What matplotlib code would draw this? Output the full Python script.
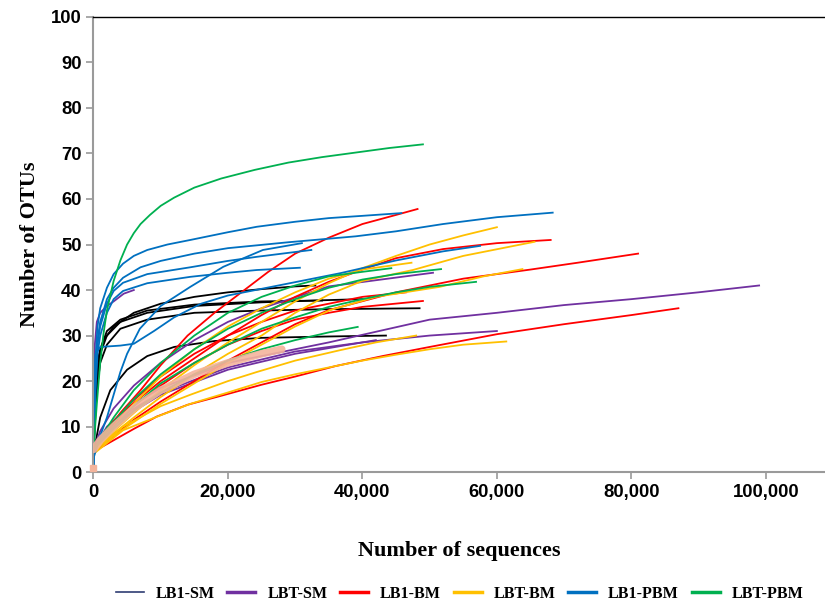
import matplotlib.pyplot as plt
from matplotlib.lines import Line2D
from matplotlib.ticker import FuncFormatter

# rarefaction curves: (sequences, OTUs)
lb1_sm = [
    ([0, 300, 700, 1500, 3000, 6000, 10000, 15000, 20000, 25000, 30000, 33000],
     [5, 18, 25, 29, 32, 35, 37, 38.5, 39.5, 40.2, 40.8, 41]),
    ([0, 500, 1000, 2000, 4000, 8000, 15000, 25000, 35000, 40000],
     [5, 20, 26, 30, 33, 35, 36.5, 37.3, 37.8, 38]),
    ([0, 500, 1000, 2000, 4000, 8000, 15000, 25000, 35000, 48500],
     [5, 18, 24, 28, 31.5, 33.5, 35, 35.5, 35.8, 36]),
    ([0, 1000, 2500, 5000, 8000, 12000, 18000, 25000, 35000, 43500],
     [4, 12, 18, 22.5, 25.5, 27.5, 28.8, 29.5, 29.8, 30]),
    ([0, 400, 1000, 2000, 4000, 8000, 15000, 25000, 34000],
     [5, 22, 27, 31, 33.5, 35.5, 36.8, 37.5, 37.7]),
]

lbt_sm = [
    ([0, 2000, 5000, 10000, 20000, 30000, 35000, 50000, 60000, 70000, 80000, 90000, 99000],
     [5, 10, 14, 18.5, 24, 27, 28.5, 33.5, 35, 36.7, 38, 39.5, 41]),
    ([0, 2000, 5000, 10000, 20000, 30000, 40000, 50000, 60000],
     [5, 9.5, 13, 17.5, 23, 26.5, 28.5, 30, 31]),
    ([0, 1000, 3000, 6000, 10000, 15000, 20000, 25000, 35000, 50500],
     [5, 9, 14, 19, 24, 29, 33, 36, 40.8, 43.8]),
    ([0, 200, 500, 1000, 2000, 3000, 4500, 6000],
     [20, 28, 33, 35, 36.5, 37.5, 39.2, 40]),
    ([0, 2000, 5000, 10000, 20000, 30000, 36000, 42000],
     [5, 9, 12.5, 17, 22.5, 26, 27.5, 29]),
]

lb1_bm = [
    ([0, 2000, 4000, 7000, 10000, 14000, 18000, 22000, 26000, 30000, 35000, 40000, 45000, 48200],
     [5, 9, 13, 18, 23.5, 30, 35, 39.5, 44, 48, 51.5, 54.5, 56.5, 57.8]),
    ([0, 2000, 5000, 10000, 15000, 20000, 25000, 30000, 35000, 40000, 45000, 52000, 60000, 68000],
     [5, 9, 14, 20, 25, 30, 34.5, 38.5, 41.8, 44.5, 47, 49, 50.3, 51]),
    ([0, 3000, 6000, 10000, 15000, 20000, 25000, 30000, 35000, 45000, 55000, 65000, 72000, 81000],
     [4.5, 8, 11.5, 15.5, 20, 24.5, 28.5, 32.5, 35.6, 39.5, 42.5, 44.5, 46, 48]),
    ([0, 3000, 6000, 9400, 14000, 19300, 25000, 30000, 36000, 43000, 50000, 60000, 70000, 80000, 87000],
     [4.5, 7, 9.5, 12.2, 14.8, 16.9, 19.2, 21, 23.3, 25.5, 27.5, 30.3, 32.5, 34.5, 36]),
    ([0, 2000, 5000, 10000, 15000, 20000, 25000, 30000, 35000, 40000, 46500],
     [5, 9.5, 14.5, 21, 26, 30, 33, 35.5, 37, 38.5, 39.5]),
    ([0, 2000, 5000, 10000, 15000, 20000, 25000, 30000, 35000, 40000, 49000],
     [5, 9, 13.5, 19, 24, 28, 31, 33.5, 35, 36.3, 37.6]),
]

lbt_bm = [
    ([0, 3000, 6000, 10000, 15000, 20000, 25000, 30000, 35000, 40000, 45000, 50000, 55000, 60000],
     [4.5, 9, 13, 18, 23.5, 28.5, 33, 37.5, 41.5, 44.8, 47.5, 50, 52, 53.8]),
    ([0, 3000, 6000, 10000, 15000, 20000, 25000, 30000, 35000, 40000, 47500, 55000, 65600],
     [4.5, 8.5, 12, 16.5, 21.5, 26, 30, 35, 39, 42, 44.4, 47.5, 50.6]),
    ([0, 3000, 6000, 10000, 15000, 20000, 25000, 30000, 35200, 42000, 51500, 58000, 63800],
     [4.5, 8, 11, 15, 19.5, 24, 28, 32, 35.6, 38.5, 40.7, 43, 44.6]),
    ([0, 4400, 10000, 14400, 20000, 25000, 30000, 35000, 40000, 45000, 50000, 55000, 61400],
     [4, 9.2, 12.5, 15, 17.5, 19.8, 21.5, 23, 24.5, 25.8, 27, 28, 28.7]),
    ([0, 4400, 10000, 14400, 20000, 24300, 30000, 36700, 42000, 48000],
     [4.5, 10, 14.5, 17, 20, 22, 24.5, 26.8, 28.5, 30]),
    ([0, 3000, 6000, 10000, 15000, 20000, 25000, 30000, 35000, 40000, 47300],
     [5, 10, 15, 21, 27, 32, 36, 39.5, 42.5, 44.5, 46]),
]

lb1_pbm = [
    ([0, 100, 300, 600, 1000, 2000, 3000, 4400, 6000, 8000, 11000, 14400, 20000, 24300, 30000,
      35000, 40000, 45800],
     [1, 15, 25, 32, 36, 40.5, 43.5, 45.8, 47.5, 48.8, 50, 51, 52.7, 53.9, 55, 55.8, 56.3, 56.9]),
    ([0, 100, 300, 600, 1000, 2000, 3000, 4400, 7000, 10000, 15000, 20000, 29000, 39000, 45000,
      52000, 60000, 68300],
     [1, 14, 22, 29, 33, 38, 40.5, 42.7, 45, 46.4, 48, 49.2, 50.5, 51.8, 52.9, 54.5, 56, 57]),
    ([0, 300, 600, 1000, 2000, 3000, 4400, 8000, 14400, 20000, 24300, 32400],
     [1, 20, 28, 32, 37, 39.8, 41.6, 43.5, 45, 46.4, 47.3, 48.8]),
    ([0, 300, 600, 1000, 2000, 3000, 4400, 8000, 14400, 20000, 24300, 30700],
     [1, 18, 26, 30, 35, 38, 39.8, 41.5, 42.9, 43.8, 44.4, 44.9]),
    ([0, 1000, 2000, 3000, 4000, 5000, 6900, 10000, 14400, 19300, 25200, 31000],
     [3, 8, 12, 17, 22, 26, 31.5, 36.5, 40.7, 45.1, 48.8, 50.3]),
    ([0, 100, 300, 1000, 4000, 6000, 9000, 12000, 16000, 20000, 29200, 36700, 45000, 52000, 57500],
     [1, 20, 26, 27.5, 27.8, 28.2, 31, 34, 37, 38.8, 41.5, 43.7, 46.5, 48.5, 49.7]),
]

lbt_pbm = [
    ([0, 500, 1000, 1500, 2000, 3000, 4000, 5000, 6000, 7000, 8400, 10000, 12000, 15000, 19000,
      24000, 29000, 34000, 39000, 44000, 49000],
     [5, 15, 24, 30.5, 35.5, 42, 46.5, 50, 52.5, 54.5, 56.5, 58.5, 60.3, 62.5, 64.5, 66.4, 68,
      69.2, 70.2, 71.2, 72]),
    ([0, 3000, 6000, 10000, 15000, 20000, 25000, 30000, 35000, 40000, 45000, 51700],
     [5, 11, 16, 21.5, 27, 31.5, 35, 38, 40.5, 42.3, 43.5, 44.6]),
    ([0, 3000, 6000, 10000, 15000, 20000, 25000, 30000, 35000, 40000, 45000, 50000, 56900],
     [5, 10, 14.5, 19.5, 24, 28, 31.5, 34, 36.3, 38, 39.5, 40.7, 41.8]),
    ([0, 3000, 6000, 10000, 15000, 20000, 25000, 30000, 35000, 39300],
     [5, 9.5, 13.5, 17.5, 21.5, 24.5, 27, 29, 30.7, 31.9]),
    ([0, 3000, 6000, 10000, 15000, 20000, 25000, 30000, 35000, 40000, 44300],
     [5, 12, 18, 24, 30, 35, 38.5, 41, 43, 44, 44.8]),
]

extra_x = [0, 1000, 3000, 6000, 10000, 15000, 20000, 25000, 28000]
extra_y = [5, 7, 10, 14, 18, 21.5, 24, 26, 27]

groups = [
    ('LB1-SM', lb1_sm, 'black', '#2f3d73'),
    ('LBT-SM', lbt_sm, '#7030a0', '#7030a0'),
    ('LB1-BM', lb1_bm, '#ff0000', '#ff0000'),
    ('LBT-BM', lbt_bm, '#ffc000', '#ffc000'),
    ('LB1-PBM', lb1_pbm, '#0070c0', '#0070c0'),
    ('LBT-PBM', lbt_pbm, '#00b050', '#00b050'),
]


def main():
    fig = plt.figure(figsize=(8.25, 6.03), dpi=100)
    ax = fig.add_axes([0.1133, 0.217, 0.8867, 0.755])

    handles = []
    for name, curves, color, leg_color in groups:
        for xs, ys in curves:
            ax.plot(xs, ys, color=color, lw=1.3, zorder=2)
        lw = 1.2 if name == 'LB1-SM' else 2.5
        handles.append(Line2D([], [], color=leg_color, lw=lw))

    ax.plot(extra_x, extra_y, color='#f4b49c', lw=5.5, solid_capstyle='round', alpha=0.9, zorder=3)
    ax.plot([0], [1], 's', color='#f4b49c', ms=4, clip_on=False, zorder=3)

    ax.set_xlim(0, 108800)
    ax.set_ylim(0, 100)
    ax.set_yticks(range(0, 101, 10))
    ax.set_xticks(range(0, 100001, 20000))
    ax.xaxis.set_major_formatter(FuncFormatter(lambda v, p: '{:,}'.format(int(v))))

    for side in ('left', 'bottom'):
        ax.spines[side].set_color('#9a9a9a')
        ax.spines[side].set_linewidth(1.5)
    ax.spines['top'].set_color('black')
    ax.spines['top'].set_linewidth(1.0)
    ax.spines['right'].set_visible(False)
    ax.tick_params(direction='out', length=5, width=1.2, color='#9a9a9a')

    for lab in ax.get_xticklabels() + ax.get_yticklabels():
        lab.set_fontfamily('Liberation Sans')
        lab.set_fontweight('bold')
        lab.set_fontsize(13.3)

    ax.set_xlabel('Number of sequences', family='Liberation Serif', fontweight='bold',
                  fontsize=16, labelpad=29)
    ax.set_ylabel('Number of OTUs', family='Liberation Serif', fontweight='bold',
                  fontsize=16, labelpad=8)

    fig.legend(handles, [g[0] for g in groups], loc='lower center', ncol=6,
               bbox_to_anchor=(0.557, -0.022), frameon=False, handlelength=1.75,
               handletextpad=0.75, columnspacing=0.8,
               prop={'family': 'Liberation Serif', 'weight': 'bold', 'size': 11.5})

    plt.savefig('out.png', dpi=100)


if __name__ == '__main__':
    main()
